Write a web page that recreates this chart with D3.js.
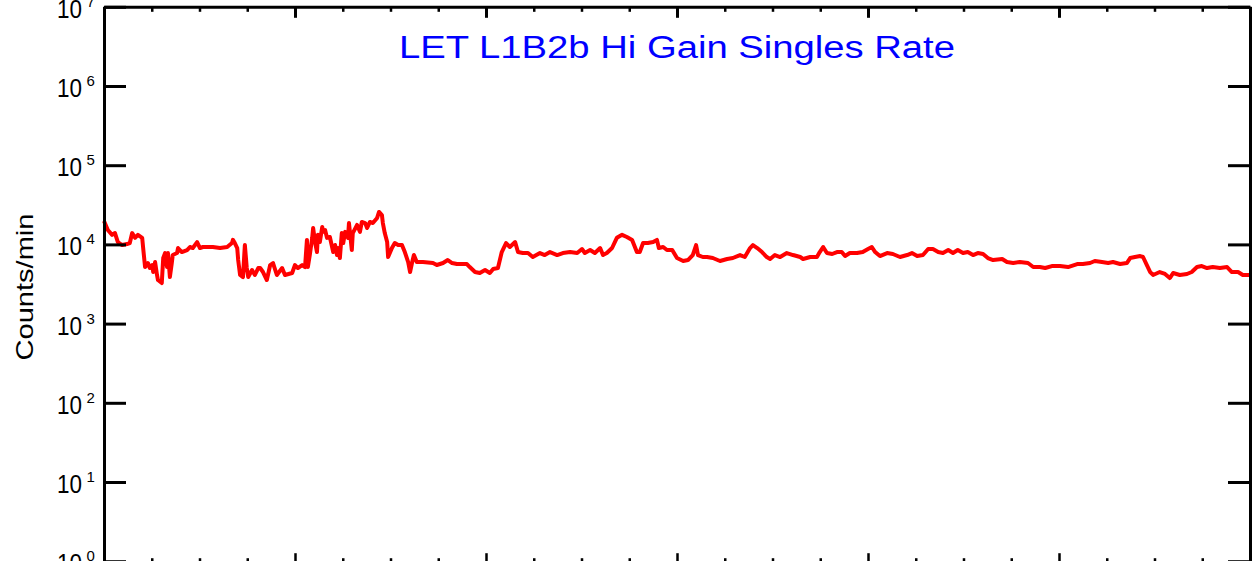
<!DOCTYPE html>
<html><head><meta charset="utf-8">
<script src="https://cdn.jsdelivr.net/npm/d3@7"></script>
<style>html,body{margin:0;padding:0;background:#fff;overflow:hidden}</style>
</head><body><svg id="chart" width="1254" height="561"></svg>
<script>
const titleText = "LET L1B2b Hi Gain Singles Rate";
const yLabelText = "Counts/min";
const yTickExponents = [0, 1, 2, 3, 4, 5, 6, 7];
const xMajorTicks = [0, 4, 8, 12, 16, 20, 24];
const xMinorTicks = [1,2,3,5,6,7,9,10,11,13,14,15,17,18,19,21,22,23];

// time of day in hours
const hours = [
 0.00,0.08,0.17,0.23,0.29,0.38,0.48,0.54,0.59,0.65,
 0.71,0.80,0.82,0.86,0.92,0.96,1.01,1.03,1.07,1.11,
 1.13,1.21,1.24,1.28,1.32,1.34,1.38,1.42,1.44,1.53,
 1.55,1.63,1.74,1.80,1.86,1.95,2.01,2.07,2.16,2.28,
 2.43,2.58,2.68,2.70,2.74,2.79,2.81,2.85,2.91,2.95,
 2.99,3.02,3.10,3.16,3.23,3.27,3.33,3.41,3.48,3.54,
 3.62,3.73,3.79,3.94,4.00,4.06,4.15,4.21,4.25,4.27,
 4.31,4.36,4.38,4.42,4.46,4.48,4.52,4.57,4.59,4.63,
 4.67,4.73,4.80,4.84,4.88,4.90,4.94,4.98,5.01,5.05,
 5.11,5.13,5.19,5.21,5.30,5.36,5.40,5.47,5.51,5.57,
 5.63,5.72,5.76,5.82,5.84,5.88,5.93,5.95,6.03,6.09,
 6.16,6.24,6.30,6.37,6.41,6.45,6.49,6.55,6.68,6.89,
 6.97,7.10,7.20,7.29,7.39,7.60,7.66,7.77,7.87,7.98,
 8.08,8.15,8.25,8.33,8.42,8.50,8.61,8.67,8.77,8.88,
 8.98,9.13,9.23,9.34,9.49,9.61,9.76,9.91,10.01,10.07,
 10.18,10.28,10.39,10.45,10.53,10.64,10.74,10.85,10.95,11.06,
 11.16,11.22,11.29,11.39,11.50,11.58,11.62,11.71,11.79,11.90,
 12.00,12.13,12.23,12.33,12.40,12.44,12.54,12.63,12.75,12.90,
 13.05,13.17,13.32,13.42,13.53,13.59,13.68,13.78,13.88,13.95,
 14.05,14.16,14.30,14.43,14.58,14.64,14.79,14.93,14.99,15.06,
 15.14,15.25,15.35,15.45,15.52,15.62,15.77,15.89,16.00,16.08,
 16.15,16.25,16.40,16.52,16.67,16.82,16.92,17.03,17.15,17.26,
 17.36,17.47,17.57,17.68,17.78,17.88,17.99,18.09,18.20,18.30,
 18.41,18.51,18.62,18.81,18.91,19.04,19.18,19.35,19.46,19.60,
 19.71,19.85,20.02,20.19,20.38,20.50,20.65,20.75,20.90,21.03,
 21.13,21.28,21.42,21.49,21.59,21.70,21.76,21.84,21.91,21.97,
 22.11,22.22,22.32,22.39,22.53,22.68,22.78,22.89,22.99,23.10,
 23.22,23.37,23.52,23.62,23.75,23.85,24.00
];
// singles rate, counts/min
const counts = [
 19800,15200,13200,13900,10700,9820,10100,10400,13900,12100,
 13200,12100,9000,5180,5820,5030,5490,4480,5990,4110,
 3550,3250,6730,7780,5180,7780,3870,5820,7340,7780,
 9000,8010,8490,9270,9000,10700,9000,9270,9270,9270,
 9000,9270,10400,11400,10400,9000,6350,4110,3870,9820,
 5030,3870,4750,4110,5030,5030,4480,3550,5490,5820,
 4110,5030,4110,4350,5490,5030,5490,5180,11400,5180,
 7340,12100,16100,10700,8010,13200,10700,16600,14400,15200,
 12100,12400,8010,9820,7340,9000,6730,13900,10400,14400,
 12100,18600,8490,13900,17600,14400,19200,18600,16100,19200,
 18600,21600,25700,23500,18600,13900,10700,6930,9000,10400,
 9820,9820,8010,5990,4480,5820,7340,5990,5990,5820,
 5490,5820,6350,5820,5650,5650,5180,4480,4350,4750,
 4350,4890,5030,8010,10400,9270,10700,8010,7780,7780,
 6930,7780,7340,8010,7340,7780,8010,7780,8740,7780,
 8490,7780,9000,7340,7780,9000,12100,13200,12400,11400,
 8010,8010,10400,10400,10700,11400,9000,9270,8490,8490,
 6730,6170,6350,7340,9820,7340,6930,6930,6730,6170,
 6540,6730,7340,6930,9000,9820,9000,8010,6930,6540,
 7340,6930,7780,7340,6930,6540,6930,6930,8010,9270,
 7780,7560,8010,8010,7130,7780,7780,8010,8740,9270,
 8010,7130,7780,7560,6930,7340,7780,7130,7340,8740,
 8740,8010,7780,8490,7780,8490,7780,8010,7340,7780,
 7560,6730,6350,6540,5990,5820,5990,5820,5180,5180,
 5030,5330,5330,5180,5650,5650,5820,6170,5990,5820,
 5990,5650,5820,6730,6930,7130,6930,5490,4480,4110,
 4480,4230,3760,4350,4110,4230,4480,5180,5330,5030,
 5180,5030,5180,4480,4480,4110,4110
];

const plotLeft = 104, plotRight = 1250, plotTop = 6.8, plotBottom = 561.2;
const svg = d3.select("#chart");

const x = d3.scaleLinear().domain([0, 24]).range([plotLeft, plotRight]);
const y = d3.scaleLog().domain([1, 1e7]).range([plotBottom, plotTop]);
const yTicks = yTickExponents.map(e => Math.pow(10, e));

const data = hours.map((h, i) => ({h, c: counts[i]}));

// data line
svg.append("path")
  .datum(data)
  .attr("fill", "none")
  .attr("stroke", "#ff0000")
  .attr("stroke-width", 4)
  .attr("stroke-linejoin", "round")
  .attr("d", d3.line().x(d => x(d.h)).y(d => y(d.c)));

function styleAxis(g, w) {
  g.selectAll("path.domain").attr("stroke", "#000").attr("stroke-width", w);
  g.selectAll(".tick line").attr("stroke", "#000").attr("stroke-width", w);
  g.selectAll(".tick text").remove();
}

// left & right axes
svg.append("g").attr("transform", `translate(${plotLeft},0)`)
  .call(d3.axisLeft(y).tickValues(yTicks).tickSizeInner(-22).tickSizeOuter(0).tickFormat(""))
  .call(g => styleAxis(g, 3));
svg.append("g").attr("transform", `translate(${plotRight},0)`)
  .call(d3.axisRight(y).tickValues(yTicks).tickSizeInner(-22).tickSizeOuter(0).tickFormat(""))
  .call(g => styleAxis(g, 3));

// top axis
svg.append("g").attr("transform", `translate(0,${plotTop})`)
  .call(d3.axisTop(x).tickValues(xMajorTicks).tickSizeInner(-11).tickSizeOuter(0).tickFormat(""))
  .call(g => styleAxis(g, 3));
svg.append("g").attr("transform", `translate(0,${plotTop})`)
  .call(d3.axisTop(x).tickValues(xMinorTicks).tickSizeInner(-5).tickSizeOuter(0).tickFormat(""))
  .call(g => { styleAxis(g, 2.5); g.select("path.domain").remove(); });

// bottom axis (mostly beyond the frame edge)
svg.append("g").attr("transform", `translate(0,${plotBottom + 2})`)
  .call(d3.axisBottom(x).tickValues(xMajorTicks).tickSizeInner(-10).tickSizeOuter(0).tickFormat(""))
  .call(g => styleAxis(g, 2.5));
svg.append("g").attr("transform", `translate(0,${plotBottom + 2})`)
  .call(d3.axisBottom(x).tickValues(xMinorTicks).tickSizeInner(-5).tickSizeOuter(0).tickFormat(""))
  .call(g => { styleAxis(g, 2.5); g.select("path.domain").remove(); });

// y tick labels 10^n
const fontFam = "'Liberation Sans', Arial, Helvetica, sans-serif";
const lab = svg.append("g").attr("font-family", fontFam).attr("fill", "#000");
yTickExponents.forEach(e => {
  const ty = y(Math.pow(10, e));
  lab.append("text").attr("x", 82).attr("y", ty + 11)
    .attr("text-anchor", "end").attr("font-size", 25)
    .attr("textLength", 25).attr("lengthAdjust", "spacingAndGlyphs")
    .text("10");
  lab.append("text").attr("x", 86.5).attr("y", ty)
    .attr("font-size", 15).text(String(e));
});

// y label
svg.append("text")
  .attr("transform", `translate(33,${(plotTop + plotBottom) / 2 + 3}) rotate(-90)`)
  .attr("text-anchor", "middle")
  .attr("font-family", fontFam).attr("font-size", 24)
  .attr("textLength", 147).attr("lengthAdjust", "spacingAndGlyphs")
  .text(yLabelText);

// title
svg.append("text")
  .attr("x", (plotLeft + plotRight) / 2).attr("y", 58)
  .attr("text-anchor", "middle")
  .attr("font-family", fontFam).attr("font-size", 31)
  .attr("fill", "#0000ff")
  .attr("textLength", 556).attr("lengthAdjust", "spacingAndGlyphs")
  .text(titleText);
</script></body></html>
